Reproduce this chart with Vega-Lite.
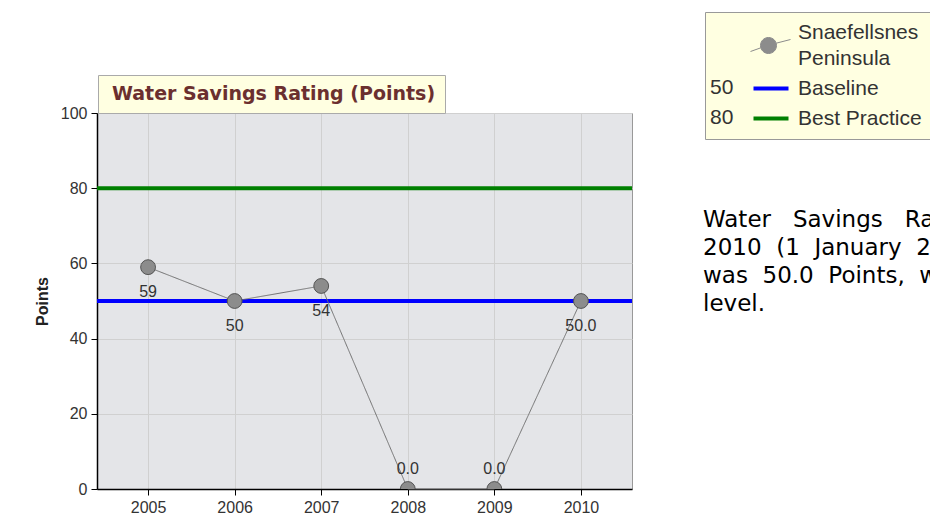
{
  "$schema": "https://vega.github.io/schema/vega-lite/v6.json",
  "width": 535,
  "height": 376,
  "autosize": {"type": "none"},
  "padding": {"left": 97, "top": 113, "right": 298, "bottom": 34},
  "background": "white",
  "title": {
    "text": [
      "Water\u00a0\u00a0 Savings\u00a0\u00a0 Rating\u00a0\u00a0 for\u00a0\u00a0 the\u00a0\u00a0 year",
      "2010\u00a0 (1\u00a0 January\u00a0 2010\u00a0 -\u00a0 31\u00a0 December\u00a0 2010)",
      "was\u00a0 50.0\u00a0 Points,\u00a0 which\u00a0 is\u00a0 at\u00a0 the\u00a0 Baseline",
      "level."
    ],
    "anchor": "start",
    "frame": "group",
    "orient": "top",
    "align": "left",
    "baseline": "top",
    "dx": 606,
    "dy": 304,
    "offset": 0,
    "font": "DejaVu Sans",
    "fontSize": 23,
    "fontWeight": "normal",
    "color": "#000000",
    "lineHeight": 28
  },
  "datasets": {
    "ratings": [
      {"year": "2005", "points": 59, "label": "59", "series": "Snaefellsnes Peninsula", "metric": "Water Savings Rating (Points)"},
      {"year": "2006", "points": 50, "label": "50", "series": "Snaefellsnes Peninsula", "metric": "Water Savings Rating (Points)"},
      {"year": "2007", "points": 54, "label": "54", "series": "Snaefellsnes Peninsula", "metric": "Water Savings Rating (Points)"},
      {"year": "2008", "points": 0, "label": "0.0", "series": "Snaefellsnes Peninsula", "metric": "Water Savings Rating (Points)"},
      {"year": "2009", "points": 0, "label": "0.0", "series": "Snaefellsnes Peninsula", "metric": "Water Savings Rating (Points)"},
      {"year": "2010", "points": 50, "label": "50.0", "series": "Snaefellsnes Peninsula", "metric": "Water Savings Rating (Points)"}
    ],
    "targets": [
      {"name": "Baseline", "points": 50, "level": "50"},
      {"name": "Best Practice", "points": 80, "level": "80"}
    ]
  },
  "layer": [
    {
      "data": {"name": "targets"},
      "mark": {"type": "rule", "strokeWidth": 4},
      "encoding": {
        "y": {"field": "points", "type": "quantitative", "scale": {"domain": [0, 100]}, "axis": {"values": [0, 20, 40, 60, 80, 100], "title": "Points", "titleFontSize": 16, "titleFontWeight": "bold", "titleColor": "#222", "titlePadding": 10, "labelPadding": 4}},
        "color": {
          "field": "name", "type": "nominal",
          "scale": {"domain": ["Snaefellsnes Peninsula", "Baseline", "Best Practice"], "range": ["#8c8c8c", "#0000ff", "#008000"]},
          "legend": {
            "orient": "none", "legendX": 608, "legendY": -101, "title": null,
            "fillColor": "#ffffe1", "strokeColor": "#999999", "padding": 10,
            "symbolSize": 400, "labelOffset": 62, "labelFont": "Liberation Sans", "labelFontSize": 21, "labelColor": "#333333",
            "rowPadding": 8, "labelLimit": 300,
            "labelExpr": "datum.label === 'Snaefellsnes Peninsula' ? ['Snaefellsnes', 'Peninsula'] : datum.label",
            "encode": {
              "labels": {"update": {"lineHeight": {"value": 26}}},
              "symbols": {
                "update": {
                  "shape": {"signal": "datum.value === 'Snaefellsnes Peninsula' ? 'M2.5,1.9L3.53,1.53M5.07,1.07L6.5,0.7M3.5,1.3A0.8,0.8 0 1,0 5.1,1.3A0.8,0.8 0 1,0 3.5,1.3Z' : 'M2.8,0L6.3,0'"},
                  "strokeWidth": {"signal": "datum.value === 'Snaefellsnes Peninsula' ? 1 : 4"},
                  "stroke": {"signal": "datum.value === 'Snaefellsnes Peninsula' ? '#555555' : (datum.value === 'Baseline' ? '#0000ff' : '#008000')"},
                  "fill": {"signal": "datum.value === 'Snaefellsnes Peninsula' ? '#8c8c8c' : 'transparent'"},
                  "opacity": {"value": 1}
                }
              }
            }
          }
        },
        "opacity": {
          "field": "level", "type": "nominal",
          "scale": {"domain": ["50", "80"], "range": [1, 1]},
          "legend": {
            "orient": "none", "legendX": 592, "legendY": -36, "title": null,
            "symbolOpacity": 0, "symbolSize": 0, "labelOffset": 0, "padding": 0,
            "labelFontSize": 21, "labelFont": "Liberation Sans", "labelColor": "#333333",
            "rowPadding": 8, "zindex": 2
          }
        }
      }
    },
    {
      "data": {"name": "ratings"},
      "mark": {"type": "line", "color": "#707070", "strokeWidth": 1},
      "encoding": {
        "x": {"field": "year", "type": "ordinal", "scale": {"type": "point", "padding": 0.59}, "axis": {"labelAngle": 0, "title": null, "labelPadding": 4, "grid": true}},
        "y": {"field": "points", "type": "quantitative"},
        "strokeDash": {
          "field": "metric", "type": "nominal",
          "scale": {"range": [[1, 0]]},
          "legend": {
            "orient": "none", "legendX": 1, "legendY": -38, "title": null,
            "symbolOpacity": 0, "symbolSize": 0, "labelOffset": -14, "padding": 9,
            "fillColor": "#ffffe1", "strokeColor": "#aaaaaa",
            "labelFont": "DejaVu Sans", "labelFontSize": 19, "labelFontWeight": "bold", "labelColor": "#6b2f2f", "labelLimit": 500
          }
        }
      }
    },
    {
      "data": {"name": "ratings"},
      "mark": {"type": "point", "filled": true, "size": 220, "stroke": "#555555", "strokeWidth": 1, "opacity": 1, "clip": true},
      "encoding": {
        "x": {"field": "year", "type": "ordinal"},
        "y": {"field": "points", "type": "quantitative"},
        "color": {"field": "series", "type": "nominal"}
      }
    },
    {
      "data": {"name": "ratings"},
      "transform": [{"filter": "datum.points > 0"}],
      "mark": {"type": "text", "dy": 25, "fontSize": 16, "font": "Liberation Sans", "color": "#333333"},
      "encoding": {
        "x": {"field": "year", "type": "ordinal"},
        "y": {"field": "points", "type": "quantitative"},
        "text": {"field": "label"}
      }
    },
    {
      "data": {"name": "ratings"},
      "transform": [{"filter": "datum.points == 0"}],
      "mark": {"type": "text", "dy": -20, "fontSize": 16, "font": "Liberation Sans", "color": "#333333"},
      "encoding": {
        "x": {"field": "year", "type": "ordinal"},
        "y": {"field": "points", "type": "quantitative"},
        "text": {"field": "label"}
      }
    }
  ],
  "config": {
    "view": {"fill": "#e4e5e8", "stroke": "#999999"},
    "axis": {"labelFont": "Liberation Sans", "labelFontSize": 16, "labelColor": "#333333", "tickColor": "#000000", "tickSize": 6, "domainColor": "#000000", "domainWidth": 1.5, "gridColor": "#d0d0d0", "titleFont": "Liberation Sans"}
  }
}
